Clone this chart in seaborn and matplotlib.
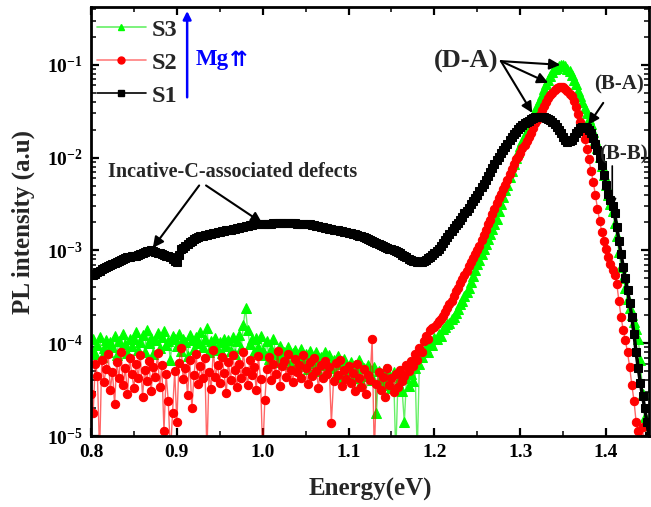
import numpy as np
import matplotlib
matplotlib.use("Agg")
import matplotlib.pyplot as plt
import seaborn as sns
from matplotlib.ticker import LogLocator, MultipleLocator, FixedLocator, NullFormatter
from matplotlib.lines import Line2D

# ---------------- data (log10 of PL intensity, 2.5 meV grid) ----------------
energy = np.round(np.linspace(0.80, 1.45, 261), 4)

s1_log = [
    -3.27, -3.26, -3.25, -3.235, -3.22, -3.205, -3.19, -3.18, -3.17, -3.16,
    -3.15, -3.135, -3.12, -3.11, -3.10, -3.09, -3.08, -3.075, -3.07, -3.065,
    -3.06, -3.055, -3.05, -3.04, -3.03, -3.02, -3.01, -3.005, -3.00, -3.01,
    -3.02, -3.025, -3.03, -3.04, -3.05, -3.055, -3.06, -3.075, -3.09, -3.11,
    -3.13, -3.05, -2.99, -2.97, -2.95, -2.93, -2.91, -2.895, -2.88, -2.87,
    -2.86, -2.85, -2.84, -2.835, -2.83, -2.825, -2.82, -2.815, -2.81, -2.805,
    -2.80, -2.795, -2.79, -2.785, -2.78, -2.775, -2.77, -2.765, -2.76, -2.755,
    -2.75, -2.745, -2.74, -2.735, -2.73, -2.725, -2.72, -2.72, -2.72, -2.715,
    -2.71, -2.71, -2.71, -2.71, -2.71, -2.705, -2.70, -2.70, -2.70, -2.70,
    -2.70, -2.70, -2.70, -2.70, -2.70, -2.705, -2.71, -2.71, -2.71, -2.71,
    -2.71, -2.715, -2.72, -2.725, -2.73, -2.735, -2.74, -2.745, -2.75, -2.755,
    -2.76, -2.765, -2.77, -2.775, -2.78, -2.785, -2.79, -2.795, -2.80, -2.805,
    -2.81, -2.815, -2.82, -2.825, -2.83, -2.84, -2.85, -2.86, -2.87, -2.88,
    -2.89, -2.90, -2.91, -2.92, -2.93, -2.94, -2.95, -2.96, -2.97, -2.98,
    -2.99, -3.00, -3.01, -3.02, -3.03, -3.045, -3.06, -3.075, -3.09, -3.10,
    -3.11, -3.115, -3.12, -3.12, -3.12, -3.11, -3.10, -3.085, -3.07, -3.05,
    -3.03, -3.005, -2.98, -2.95, -2.92, -2.89, -2.86, -2.825, -2.79, -2.76,
    -2.73, -2.70, -2.67, -2.635, -2.60, -2.57, -2.54, -2.505, -2.47, -2.435,
    -2.40, -2.36, -2.32, -2.28, -2.24, -2.20, -2.16, -2.115, -2.07, -2.03,
    -1.99, -1.955, -1.92, -1.885, -1.85, -1.815, -1.78, -1.75, -1.72, -1.695,
    -1.67, -1.65, -1.63, -1.615, -1.60, -1.585, -1.57, -1.565, -1.56, -1.56,
    -1.56, -1.565, -1.57, -1.58, -1.59, -1.615, -1.64, -1.67, -1.70, -1.74,
    -1.78, -1.81, -1.83, -1.825, -1.81, -1.775, -1.74, -1.71, -1.68, -1.67,
    -1.67, -1.68, -1.70, -1.74, -1.79, -1.85, -1.92, -2.00, -2.08, -2.19,
    -2.30, -2.39, -2.46, -2.52, -2.60, -2.75, -2.90, -3.04, -3.18, -3.30,
    -3.43, -3.57, -3.72, -3.90, -4.10, -4.27, -4.43, -4.57, -4.70, -4.85,
    -5.00,
]

s2_log = [
    -4.55, -4.75, -4.22, -4.35, -5.20, -4.18, -4.42, -4.28, -4.12, -4.50,
    -4.31, -4.66, -4.20, -4.38, -4.10, -4.45, -4.27, -4.55, -4.16, -4.33,
    -4.48, -4.22, -4.37, -4.13, -4.58, -4.29, -4.41, -4.19, -4.52, -4.26,
    -4.36, -4.11, -4.47, -4.24, -4.95, -4.33, -4.62, -5.20, -4.75, -4.30,
    -4.85, -4.21, -4.05, -4.39, -4.27, -4.56, -4.18, -4.70, -4.34, -4.12,
    -4.44, -4.25, -4.38, -4.16, -5.20, -4.31, -4.49, -4.07, -4.36, -4.23,
    -4.43, -4.15, -4.32, -4.54, -4.20, -4.40, -4.13, -4.29, -4.47, -4.22,
    -4.37, -4.10, -4.30, -4.45, -4.18, -4.34, -4.26, -4.50, -4.14, -4.39,
    -5.20, -4.61, -4.28, -4.15, -4.40, -4.22, -4.33, -4.08, -4.46, -4.25,
    -4.19, -4.36, -4.12, -4.29, -4.42, -4.17, -4.31, -4.24, -4.38, -4.13,
    -4.27, -4.44, -4.20, -4.35, -4.16, -4.30, -4.48, -4.23, -4.37, -4.19,
    -4.33, -4.26, -4.86, -4.41, -4.21, -4.34, -4.18, -4.46, -4.29, -4.39,
    -4.25, -4.43, -4.32, -4.52, -4.22, -4.37, -4.47, -4.28, -4.55, -4.34,
    -4.40, -3.96, -5.20, -4.44, -4.31, -4.50, -4.36, -4.58, -4.27, -4.45,
    -4.38, -4.53, -4.33, -4.47, -4.29, -4.41, -4.35, -4.24, -4.30, -4.19,
    -4.25, -4.12, -4.18, -4.05, -4.10, -3.98,
    -3.92, -3.95, -3.86, -3.84, -3.82, -3.79, -3.76, -3.74, -3.71, -3.66,
    -3.62, -3.58, -3.54, -3.49, -3.44, -3.40, -3.35, -3.31, -3.26, -3.22,
    -3.17, -3.13, -3.08, -3.04, -3.00, -2.95, -2.89, -2.83, -2.78, -2.72,
    -2.67, -2.61, -2.55, -2.49, -2.44, -2.39, -2.34, -2.29, -2.24, -2.18,
    -2.12, -2.07, -2.02, -1.99, -1.95, -1.90, -1.86, -1.82, -1.78, -1.73,
    -1.68, -1.63, -1.59, -1.54, -1.49, -1.44, -1.40, -1.36, -1.33, -1.30,
    -1.27, -1.25, -1.24, -1.235, -1.24, -1.26, -1.28, -1.31, -1.34, -1.39,
    -1.45, -1.53, -1.62, -1.71, -1.80, -1.91, -2.02, -2.14, -2.26, -2.40,
    -2.55, -2.68, -2.80, -2.90, -2.98, -3.07, -3.15, -3.21, -3.27, -3.36,
    -3.55, -3.72, -3.86, -3.97, -4.10, -4.26, -4.45, -4.62, -4.85, -4.95,
    -5.20, -4.90, -5.20, -5.25, -5.30,
]

s3_log = [
    -4.08, -3.95, -4.12, -4.02, -3.93, -4.15, -4.05, -3.97, -4.10, -3.99,
    -4.04, -3.92, -4.13, -3.98, -4.06, -3.90, -4.01, -4.11, -3.95, -4.03,
    -3.96, -3.88, -4.07, -3.99, -3.91, -4.09, -3.86, -4.00, -3.94, -4.12,
    -3.97, -3.89, -4.05, -3.93, -3.87, -4.02, -3.98, -4.18, -3.92, -3.96,
    -4.03, -3.90, -4.08, -3.95, -3.99, -4.14, -3.91, -3.97, -4.06, -3.93,
    -4.00, -3.88, -4.04, -3.96, -3.84, -4.09, -3.98, -4.02, -3.94, -4.07,
    -3.99, -4.11, -3.95, -4.03, -3.97, -4.08, -3.93, -4.12, -3.98, -3.91,
    -4.05, -3.80, -3.62, -3.86, -4.01, -3.96, -4.10, -3.94, -4.04, -3.92,
    -4.08, -4.13, -3.98, -4.17, -4.06, -3.95, -4.12, -4.20, -4.03, -4.15,
    -4.09, -4.18, -4.04, -4.22, -4.11, -4.07, -4.25, -4.14, -4.06, -4.19,
    -4.12, -4.28, -4.08, -4.16, -4.21, -4.10, -4.30, -4.15, -4.24, -4.09,
    -4.19, -4.13, -4.27, -4.18, -4.33, -4.14, -4.22, -4.36, -4.17, -4.25,
    -4.29, -4.20, -4.38, -4.24, -4.31, -4.18, -4.42, -4.27, -4.35, -4.23,
    -4.33, -4.40, -4.26, -4.75, -4.30, -4.37, -4.45, -4.28, -4.39, -4.34,
    -4.48, -4.31, -5.20, -4.43, -4.36, -4.52, -4.85, -4.38, -4.46, -4.33,
    -4.41, -4.27, -5.20, -4.22, -4.15, -4.08,
    -4.05, -4.10, -3.98, -4.02, -3.94, -3.96, -3.90, -3.92, -3.85, -3.83,
    -3.79, -3.78, -3.74, -3.72, -3.67, -3.63, -3.58, -3.54, -3.49, -3.45,
    -3.40, -3.34, -3.28, -3.21, -3.15, -3.10, -3.04, -2.99, -2.93, -2.88,
    -2.82, -2.77, -2.72, -2.66, -2.58, -2.50, -2.42, -2.35, -2.29, -2.21,
    -2.14, -2.07, -2.00, -1.94, -1.88, -1.82, -1.77, -1.71, -1.66, -1.61,
    -1.56, -1.50, -1.44, -1.38, -1.32, -1.26, -1.21, -1.16, -1.12, -1.08,
    -1.05, -1.03, -1.01, -1.00, -1.00, -1.01, -1.04, -1.07, -1.11, -1.16,
    -1.21, -1.28, -1.34, -1.40, -1.46, -1.52, -1.58, -1.64, -1.72, -1.81,
    -1.90, -1.99, -2.09, -2.19, -2.30, -2.40, -2.50, -2.58, -2.70, -2.85,
    -3.02, -3.18, -3.30, -3.40, -3.52, -3.62, -3.70, -3.77, -3.85, -3.96,
    -4.18, -4.55, -4.80, -5.15, -5.30,
]

series_labels = ["S1", "S2", "S3"]
x_ticks = [0.8, 0.9, 1.0, 1.1, 1.2, 1.3, 1.4]
y_ticks = [1e-5, 1e-4, 1e-3, 1e-2, 1e-1]

# ---------------- style ----------------
sns.set_theme(style="ticks")
serif = ["Liberation Serif", "DejaVu Serif"]
plt.rcParams["font.family"] = serif
plt.rcParams["font.weight"] = "bold"
plt.rcParams["mathtext.fontset"] = "custom"
plt.rcParams["mathtext.rm"] = "Liberation Serif:bold"
plt.rcParams["mathtext.it"] = "Liberation Serif:bold"
plt.rcParams["mathtext.bf"] = "Liberation Serif:bold"
plt.rcParams["mathtext.default"] = "regular"

fig = plt.figure(figsize=(6.51, 5.07), dpi=100)
ax = fig.add_axes([91 / 651, 71 / 507, 558 / 651, 429 / 507])

green, red, black = "#00ff00", "#ff0000", "#000000"
green_line = (0.0, 0.9, 0.0, 0.6)
red_line = (1.0, 0.0, 0.0, 0.6)

sns.lineplot(x=energy, y=10 ** np.array(s3_log), ax=ax, estimator=None, sort=False,
             color=green_line, lw=1.0, marker="^", markersize=6.5,
             markerfacecolor=green, markeredgecolor=green, label="S3")
sns.lineplot(x=energy, y=10 ** np.array(s2_log), ax=ax, estimator=None, sort=False,
             color=red_line, lw=1.0, marker="o", markersize=6.0,
             markerfacecolor=red, markeredgecolor=red, label="S2")
sns.lineplot(x=energy, y=10 ** np.array(s1_log), ax=ax, estimator=None, sort=False,
             color=black, lw=2.5, marker="s", markersize=5.8,
             markerfacecolor=black, markeredgecolor=black, label="S1")

ax.set_yscale("log")
ax.set_xlim(0.80, 1.45)
ax.set_ylim(1e-5, 0.42)

ax.xaxis.set_major_locator(FixedLocator(x_ticks))
ax.xaxis.set_minor_locator(MultipleLocator(0.05))
ax.set_xticklabels([f"{t:.1f}" for t in x_ticks])
ax.yaxis.set_major_locator(FixedLocator(y_ticks))
ax.yaxis.set_minor_locator(LogLocator(base=10, subs=np.arange(2, 10)))
ax.yaxis.set_minor_formatter(NullFormatter())

ax.tick_params(which="both", direction="in", top=True, right=True, colors="black")
ax.tick_params(which="major", length=6, width=1.6, labelsize=14, pad=6)
ax.tick_params(which="minor", length=3.5, width=1.1)
for lab in ax.get_xticklabels() + ax.get_yticklabels():
    lab.set_fontweight("bold")
for sp in ax.spines.values():
    sp.set_linewidth(2.0)
    sp.set_color("black")

ax.set_xlabel("Energy(eV)", fontsize=18, fontweight="bold")
ax.set_ylabel("PL intensity (a.u)", fontsize=18, fontweight="bold")
ax.xaxis.set_label_coords(0.5, -0.098)
ax.yaxis.set_label_coords(-0.101, 0.5)

# legend: S3 on top, S1 at bottom
handles = [
    Line2D([], [], color=green_line, lw=1.2, marker="^", markersize=5,
           markerfacecolor=green, markeredgecolor=green),
    Line2D([], [], color=(1.0, 0.0, 0.0, 0.5), lw=1.2, marker="o", markersize=5,
           markerfacecolor=red, markeredgecolor=red),
    Line2D([], [], color=black, lw=1.2, marker="s", markersize=4.5,
           markerfacecolor=black, markeredgecolor=black),
]
ax.legend(handles, series_labels[::-1], loc="upper left", bbox_to_anchor=(0.0, 0.987),
          frameon=False, handlelength=2.0, handletextpad=0.25, labelspacing=0.45,
          borderaxespad=0.15, borderpad=0.1,
          prop={"family": serif, "weight": "bold", "size": 17.5})

# Mg content arrow
ax.annotate("", xy=(0.912, 10 ** -0.42), xytext=(0.912, 10 ** -1.35),
            arrowprops=dict(arrowstyle="-|>", color="blue", lw=1.8,
                            mutation_scale=12, shrinkA=0, shrinkB=0))
ax.text(0.9225, 10 ** -0.946, "Mg", color="blue", fontsize=16.5, fontweight="bold",
        family=serif, ha="left", va="center")
ax.text(0.9615, 10 ** -0.946, "\u21c8", color="blue", fontsize=15, fontweight="bold",
        family=["DejaVu Sans"], ha="left", va="center")

arrow_kw = dict(arrowstyle="-|>", color="black", lw=1.5, mutation_scale=16,
                shrinkA=0, shrinkB=0)

# (D-A)
ax.text(1.2745, 10 ** -0.968, "(D-A)", fontsize=19, fontweight="bold", family=serif,
        ha="right", va="center")
tail_da = (1.2775, 10 ** -0.96)
ax.annotate("", xy=(1.3466, 10 ** -1.0), xytext=tail_da, arrowprops=arrow_kw)
ax.annotate("", xy=(1.3326, 10 ** -1.194), xytext=tail_da, arrowprops=arrow_kw)
ax.annotate("", xy=(1.314, 10 ** -1.518), xytext=tail_da, arrowprops=arrow_kw)

# (B-A)
ax.text(1.3865, 10 ** -1.21, "(B-A)", fontsize=15, fontweight="bold", family=serif,
        ha="left", va="center")
ax.annotate("", xy=(1.3793, 10 ** -1.647), xytext=(1.3967, 10 ** -1.41), arrowprops=arrow_kw)

# (B-B)
ax.text(1.3915, 10 ** -1.97, "(B-B)", fontsize=15, fontweight="bold", family=serif,
        ha="left", va="center")
ax.annotate("", xy=(1.4072, 10 ** -2.531), xytext=(1.4072, 10 ** -2.09),
            arrowprops=dict(arrowstyle="-|>", color="black", lw=1.2, mutation_scale=12,
                            shrinkA=0, shrinkB=0))

# carbon-related defect band
ax.text(0.8198, 10 ** -2.154, "Incative-C-associated defects", fontsize=14.5,
        fontweight="bold", family=serif, ha="left", va="center")
ax.annotate("", xy=(0.872, 10 ** -2.973), xytext=(0.926, 10 ** -2.30), arrowprops=arrow_kw)
ax.annotate("", xy=(0.9993, 10 ** -2.704), xytext=(0.934, 10 ** -2.30), arrowprops=arrow_kw)

fig.savefig("out.png", dpi=100)
